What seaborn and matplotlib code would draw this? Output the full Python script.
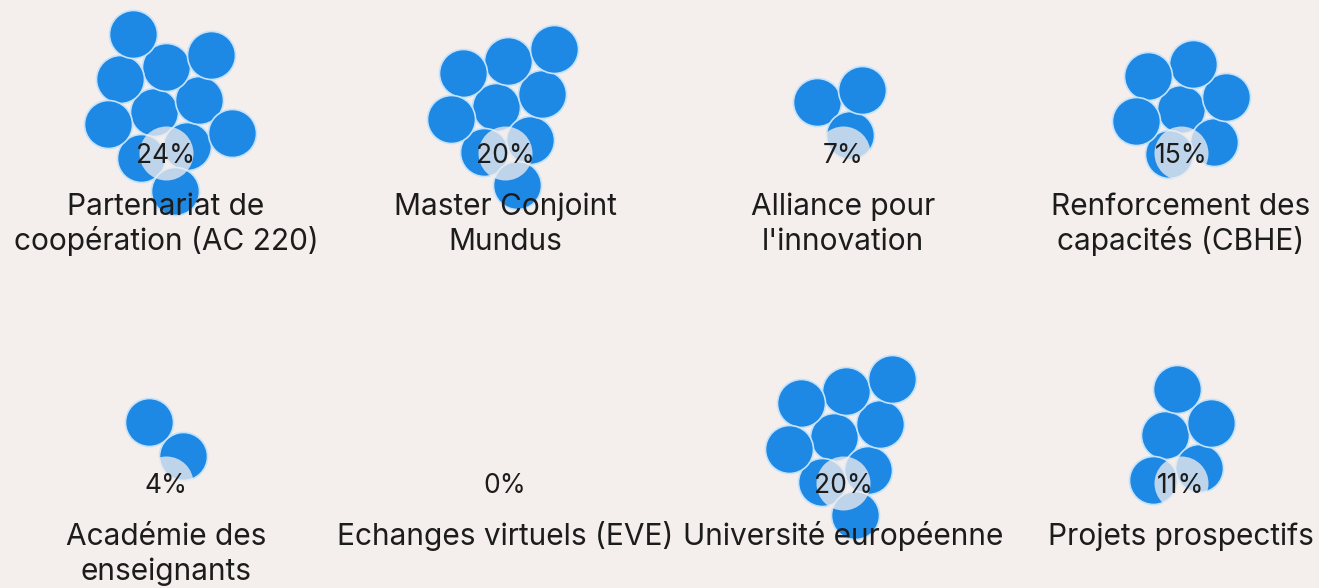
import numpy as np
import pandas as pd
import matplotlib
matplotlib.use("Agg")
import matplotlib.pyplot as plt
import seaborn as sns

# ---------------- data ----------------
categories = [
    "Partenariat de\ncoopération (AC 220)",
    "Master Conjoint\nMundus",
    "Alliance pour\nl'innovation",
    "Renforcement des\ncapacités (CBHE)",
    "Académie des\nenseignants",
    "Echanges virtuels (EVE)",
    "Université européenne",
    "Projets prospectifs",
]
percentages = [24, 20, 7, 15, 4, 0, 20, 11]
dot_counts = [11, 9, 3, 7, 2, 0, 9, 5]

# ---------------- style ----------------
BG = "#f4eeec"
BLUE = "#1e88e5"
EDGE = "#c3e2fb"
TEXT = "#1c1c1c"
W, H = 1319, 588
R = 24                     # dot radius in pixels
COL_X = [166, 505, 843, 1181]
ROW_PCT_BASE = [163, 493]  # baseline of percentage text
ROW_LAB_BASE = [215, 545]  # baseline of first label line
LINE_GAP = 35

sns.set_theme(style="white")
plt.rcParams["font.family"] = ["Inter", "DejaVu Sans"]


def hex_cluster(n, r, angle_deg=-15, yweight=0.8):
    """Deterministic compact hex packing of n dots, centred on (0,0)."""
    if n == 0:
        return np.zeros((0, 2))
    d = 2 * r * 0.98
    pts = []
    for j in range(-8, 9):
        for i in range(-8, 9):
            x = d * (i + 0.5 * (j % 2))
            y = d * j * np.sqrt(3) / 2
            pts.append((x, y))
    pts = np.array(pts)
    a = np.deg2rad(angle_deg)
    rot = np.array([[np.cos(a), -np.sin(a)], [np.sin(a), np.cos(a)]])
    pts = pts @ rot.T
    ox, oy = 0.2 * d, 0.1 * d
    dist = (pts[:, 0] - ox) ** 2 + (yweight * (pts[:, 1] - oy)) ** 2
    order = np.lexsort((pts[:, 0], dist))
    sel = pts[order[:n]]
    return sel - sel.mean(axis=0)


rows = []
labels = []
for k, (cat, pct, n) in enumerate(zip(categories, percentages, dot_counts)):
    col, row = k % 4, k // 4
    cx = COL_X[col]
    pct_center_y = ROW_PCT_BASE[row] - 10
    cy = pct_center_y - 44
    for (dx, dy) in hex_cluster(n, R):
        rows.append({"cat": cat, "x": cx + dx, "y": cy + dy})
    labels.append({"cat": cat, "x": cx, "y": pct_center_y, "pct": pct,
                   "row": row})

dots = pd.DataFrame(rows)
labs = pd.DataFrame(labels)

fig = plt.figure(figsize=(W / 100, H / 100), dpi=100, facecolor=BG)
ax = fig.add_axes([0, 0, 1, 1])
ax.set_facecolor(BG)

size_pt2 = (2 * R * 72 / 100) ** 2
sns.scatterplot(data=dots, x="x", y="y", s=size_pt2, color=BLUE,
                edgecolor=EDGE, linewidth=1.2, ax=ax, legend=False, zorder=2)

# translucent disc behind the percentage
overlay = labs[labs["pct"] > 0]
sns.scatterplot(data=overlay, x="x", y="y", s=(2 * 27 * 72 / 100) ** 2,
                color=BG, alpha=0.75, linewidth=0, ax=ax, legend=False,
                zorder=3)

for _, lr in labs.iterrows():
    ax.text(lr["x"], ROW_PCT_BASE[lr["row"]], f"{lr['pct']}%", ha="center",
            va="baseline", fontsize=19, color=TEXT, zorder=4)
    for li, line in enumerate(lr["cat"].split("\n")):
        ax.text(lr["x"], ROW_LAB_BASE[lr["row"]] + li * LINE_GAP, line,
                ha="center", va="baseline", fontsize=21.5, color=TEXT,
                zorder=4)

ax.set_xlim(0, W)
ax.set_ylim(H, 0)
ax.set_aspect("auto")
ax.axis("off")

fig.savefig("out.png", dpi=100, facecolor=BG)
